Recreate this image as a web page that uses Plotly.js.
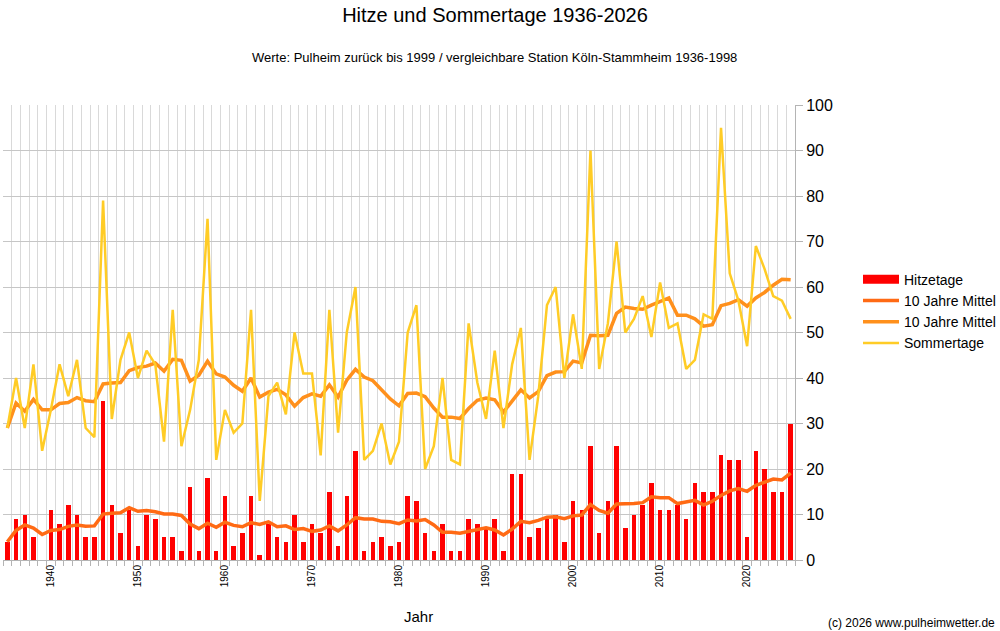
<!DOCTYPE html>
<html>
<head>
<meta charset="utf-8">
<script src="https://cdn.plot.ly/plotly-3.0.1.min.js"></script>
<style>
  html, body { margin: 0; padding: 0; background: #ffffff; }
  #chart { width: 1000px; height: 631px; }
</style>
</head>
<body>
<div id="chart"></div>
<script>
// Jahre (Kategorien)
const years = [
  1936,1937,1938,1939,1940,1941,1942,1943,1944,1945,
  1946,1947,1948,1949,1950,1951,1952,1953,1954,1955,
  1956,1957,1958,1959,1960,1961,1962,1963,1964,1965,
  1966,1967,1968,1969,1970,1971,1972,1973,1974,1975,
  1976,1977,1978,1979,1980,1981,1982,1983,1984,1985,
  1986,1987,1988,1989,1990,1991,1992,1993,1994,1995,
  1996,1997,1998,1999,2000,2001,2002,2003,2004,2005,
  2006,2007,2008,2009,2010,2011,2012,2013,2014,2015,
  2016,2017,2018,2019,2020,2021,2022,2023,2024,2025,
  2026
];

// Hitzetage (Balken)
const hitzetage = [
  4,9,10,5,0,11,8,12,10,5,
  5,35,12,6,11,3,10,9,5,5,
  2,16,2,18,2,14,3,6,14,1,
  8,5,4,10,4,8,6,15,3,14,
  24,2,4,5,3,4,14,13,6,2,
  8,2,2,9,8,7,9,2,19,19,
  5,7,9,10,4,13,11,25,6,13,
  25,7,10,12,17,11,11,12,9,17,
  15,15,23,22,22,5,24,20,15,15,
  30
];

// Sommertage (Linie)
const sommertage = [
  29,40,29,43,24,33,43,36,44,29,
  27,79,31,44,50,40,46,43,26,55,
  25,33,44,75,22,33,28,30,55,13,
  36,39,32,50,41,41,23,55,28,50,
  60,22,24,30,21,26,50,56,20,25,
  40,22,21,52,39,31,46,29,43,51,
  22,36,56,60,40,54,42,90,42,52,
  70,50,53,58,49,61,51,52,42,44,
  54,53,95,63,57,47,69,64,58,57,
  53
];

// 10 Jahre Mittel der Hitzetage (aus dem Bild gelesen)
const mittelHitze = [
  4.0,6.5,7.7,7.0,5.6,6.5,6.7,7.4,7.7,7.4,
  7.5,10.1,10.3,10.4,11.5,10.7,10.9,10.6,10.1,10.1,
  9.8,7.9,6.9,8.1,7.2,8.3,7.6,7.3,8.2,7.8,
  8.4,7.3,7.5,6.7,6.9,6.3,6.6,7.5,6.4,7.7,
  9.3,9.0,9.0,8.5,8.4,8.0,8.8,8.6,8.9,7.7,
  6.1,6.1,5.9,6.3,6.8,7.1,6.6,5.5,6.8,8.5,
  8.2,8.7,9.4,9.5,9.1,9.7,9.9,12.2,10.9,10.3,
  12.3,12.3,12.4,12.6,13.9,13.7,13.7,12.4,12.7,13.1,
  12.1,12.9,14.2,15.2,15.7,15.1,16.4,17.2,17.8,17.6,
  19.1
];

// 10 Jahre Mittel der Sommertage (aus dem Bild gelesen)
const mittelSommer = [
  29.0,34.5,32.7,35.3,33.0,33.0,34.4,34.6,35.7,35.0,
  34.8,38.7,38.9,39.0,41.6,42.3,42.6,43.3,41.5,44.1,
  43.9,39.3,40.6,43.7,40.9,40.2,38.4,37.1,40.0,35.8,
  36.9,37.5,36.3,33.8,35.7,36.5,36.0,38.5,35.8,39.5,
  41.9,40.2,39.4,37.4,35.4,33.9,36.6,36.7,35.9,33.4,
  31.4,31.4,31.1,33.3,35.1,35.6,35.2,32.5,34.8,37.4,
  35.6,37.0,40.5,41.3,41.4,43.7,43.3,49.4,49.3,49.4,
  54.2,55.6,55.3,55.1,56.0,56.7,57.6,53.8,53.8,53.0,
  51.4,51.7,55.9,56.4,57.2,55.8,57.6,58.8,60.4,61.7,
  61.6
];

// Beschriftung der x-Achse (steht im Original unter jeder 10. Kategorie ab der 6.)
const tickLabels = ['1940','1950','1960','1970','1980','1990','2000','2010','2020'];
const tickCats = tickLabels.map((t, k) => years[5 + 10 * k]);

const FONT = '"Liberation Sans", Arial, sans-serif';

const traces = [
  {
    type: 'bar', name: 'Hitzetage', x: years, y: hitzetage, showlegend: false,
    marker: { color: '#ff0000', line: { width: 0 } }, width: 0.52
  },
  // legend swatch only (wide red rectangle like the original legend)
  {
    type: 'scatter', mode: 'lines', name: 'Hitzetage', x: [null], y: [null],
    line: { color: '#ff0000', width: 9 }
  },
  {
    type: 'scatter', mode: 'lines', name: '10 Jahre Mittel', x: years, y: mittelHitze,
    line: { color: '#ff6a14', width: 3.5 }
  },
  {
    type: 'scatter', mode: 'lines', name: '10 Jahre Mittel', x: years, y: mittelSommer,
    line: { color: '#ff901c', width: 3.5 }
  },
  {
    type: 'scatter', mode: 'lines', name: 'Sommertage', x: years, y: sommertage,
    line: { color: '#ffcc26', width: 2.5 }
  }
];

const layout = {
  width: 1000, height: 631,
  margin: { l: 3, r: 205, t: 105, b: 71, autoexpand: false },
  paper_bgcolor: '#ffffff', plot_bgcolor: '#ffffff',
  font: { family: FONT, color: '#000000' },
  hovermode: false,
  bargap: 0,
  title: {
    text: 'Hitze und Sommertage 1936-2026',
    font: { family: FONT, size: 20, color: '#000000' },
    xref: 'container', x: 0.495, xanchor: 'center',
    yref: 'container', y: 0.976, yanchor: 'middle'
  },
  xaxis: {
    range: [1935.5, 2026.5],
    tickmode: 'array', tickvals: tickCats, ticktext: tickLabels,
    tickangle: -90, tickfont: { family: FONT, size: 10, color: '#000000' },
    ticks: '', showgrid: false, zeroline: false,
    showline: true, linecolor: '#b4b4b4', linewidth: 1,
    minor: {
      tickmode: 'linear', tick0: 1935.5, dtick: 1,
      showgrid: true, gridcolor: '#d9d9d9', gridwidth: 1,
      ticks: 'outside', ticklen: 5, tickcolor: '#b4b4b4'
    }
  },
  yaxis: {
    side: 'right', range: [0, 100], dtick: 10, tick0: 0,
    tickfont: { family: FONT, size: 16, color: '#000000' },
    showgrid: true, gridcolor: '#c6c6c6', gridwidth: 1,
    zeroline: false,
    showline: true, linecolor: '#b4b4b4', linewidth: 1,
    ticks: 'outside', ticklen: 7, tickcolor: '#b4b4b4'
  },
  showlegend: true,
  legend: {
    xref: 'container', x: 0.858, xanchor: 'left',
    yref: 'container', y: 0.582, yanchor: 'top',
    font: { family: FONT, size: 14, color: '#000000' },
    bgcolor: 'rgba(0,0,0,0)', borderwidth: 0,
    traceorder: 'normal', itemwidth: 36
  },
  annotations: [
    {
      text: 'Werte: Pulheim zurück bis 1999 / vergleichbare Station Köln-Stammheim 1936-1998',
      xref: 'paper', yref: 'paper', x: 0.621, y: 1.105,
      xanchor: 'center', yanchor: 'middle', showarrow: false,
      font: { family: FONT, size: 13, color: '#000000' }
    },
    {
      text: 'Jahr',
      xref: 'paper', yref: 'paper', x: 0.524, y: -0.125,
      xanchor: 'center', yanchor: 'middle', showarrow: false,
      font: { family: FONT, size: 15, color: '#000000' }
    },
    {
      text: '(c) 2026 www.pulheimwetter.de',
      xref: 'paper', yref: 'paper', x: 1.255, y: -0.138,
      xanchor: 'right', yanchor: 'middle', showarrow: false,
      font: { family: FONT, size: 12, color: '#000000' }
    }
  ]
};

Plotly.newPlot('chart', traces, layout, { displayModeBar: false, staticPlot: true });
</script>
</body>
</html>
